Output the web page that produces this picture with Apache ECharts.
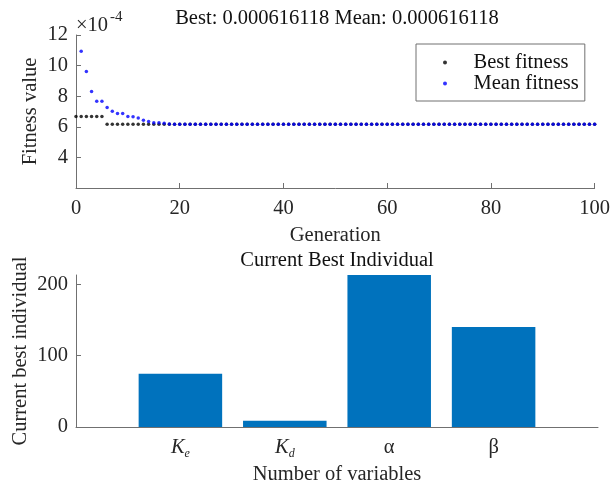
<!DOCTYPE html>
<html>
<head>
<meta charset="utf-8">
<script src="https://cdn.jsdelivr.net/npm/echarts@6/dist/echarts.min.js"></script>
<style>
html, body { margin: 0; padding: 0; background: #fff; }
#chart { width: 613px; height: 487px; }
</style>
</head>
<body>
<div id="chart"></div>
<script>
// Fitness per generation, in units of 1e-4 (axis carries the ×10^-4 factor)
const bestFitness = [
  6.67, 6.67, 6.67, 6.67, 6.67, 6.67, 6.16118, 6.16118, 6.16118, 6.16118,
  6.16118, 6.16118, 6.16118, 6.16118, 6.16118, 6.16118, 6.16118, 6.16118, 6.16118, 6.16118,
  6.16118, 6.16118, 6.16118, 6.16118, 6.16118, 6.16118, 6.16118, 6.16118, 6.16118, 6.16118,
  6.16118, 6.16118, 6.16118, 6.16118, 6.16118, 6.16118, 6.16118, 6.16118, 6.16118, 6.16118,
  6.16118, 6.16118, 6.16118, 6.16118, 6.16118, 6.16118, 6.16118, 6.16118, 6.16118, 6.16118,
  6.16118, 6.16118, 6.16118, 6.16118, 6.16118, 6.16118, 6.16118, 6.16118, 6.16118, 6.16118,
  6.16118, 6.16118, 6.16118, 6.16118, 6.16118, 6.16118, 6.16118, 6.16118, 6.16118, 6.16118,
  6.16118, 6.16118, 6.16118, 6.16118, 6.16118, 6.16118, 6.16118, 6.16118, 6.16118, 6.16118,
  6.16118, 6.16118, 6.16118, 6.16118, 6.16118, 6.16118, 6.16118, 6.16118, 6.16118, 6.16118,
  6.16118, 6.16118, 6.16118, 6.16118, 6.16118, 6.16118, 6.16118, 6.16118, 6.16118, 6.16118,
  6.16118
];
const meanFitness = [
  null, 10.93, 9.62, 8.30, 7.67, 7.67, 7.26, 7.02, 6.87, 6.87,
  6.68, 6.66, 6.58, 6.43, 6.35, 6.26, 6.26, 6.23, 6.18, 6.16118,
  6.16118, 6.16118, 6.16118, 6.16118, 6.16118, 6.16118, 6.16118, 6.16118, 6.16118, 6.16118,
  6.16118, 6.16118, 6.16118, 6.16118, 6.16118, 6.16118, 6.16118, 6.16118, 6.16118, 6.16118,
  6.16118, 6.16118, 6.16118, 6.16118, 6.16118, 6.16118, 6.16118, 6.16118, 6.16118, 6.16118,
  6.16118, 6.16118, 6.16118, 6.16118, 6.16118, 6.16118, 6.16118, 6.16118, 6.16118, 6.16118,
  6.16118, 6.16118, 6.16118, 6.16118, 6.16118, 6.16118, 6.16118, 6.16118, 6.16118, 6.16118,
  6.16118, 6.16118, 6.16118, 6.16118, 6.16118, 6.16118, 6.16118, 6.16118, 6.16118, 6.16118,
  6.16118, 6.16118, 6.16118, 6.16118, 6.16118, 6.16118, 6.16118, 6.16118, 6.16118, 6.16118,
  6.16118, 6.16118, 6.16118, 6.16118, 6.16118, 6.16118, 6.16118, 6.16118, 6.16118, 6.16118,
  6.16118
];
const fitnessTicks = [4, 6, 8, 10, 12];

// Current best individual
const variableNames = ['Ke', 'Kd', 'α', 'β'];
const bestIndividual = [74.5, 8.8, 213, 140.3];
const individualTicks = [0, 100, 200];

const FONT = 'Liberation Serif';
const FS = 20.5;
const TEXT = '#262626';
const AXIS = '#707070';

const toPoints = arr => arr.map((v, i) => [i, v]);
const lastBest = bestFitness[bestFitness.length - 1] * 1e-4;
const lastMean = meanFitness[meanFitness.length - 1] * 1e-4;
const titleText = 'Best: ' + lastBest.toPrecision(6) + ' Mean: ' + lastMean.toPrecision(6);

const axisCommon = {
  axisLine: { show: true, onZero: false, lineStyle: { color: AXIS, width: 1 } },
  axisTick: { show: true, inside: true, length: 5, lineStyle: { color: AXIS } },
  splitLine: { show: false },
  axisLabel: { fontFamily: FONT, fontSize: FS, color: TEXT },
  nameTextStyle: { fontFamily: FONT, fontSize: FS, color: TEXT },
  nameMoveOverlap: false
};

const chart = echarts.init(document.getElementById('chart'), null, { renderer: 'canvas' });

const subLabels = { Ke: 'e', Kd: 'd' };

chart.setOption({
  animation: false,
  backgroundColor: '#fff',
  textStyle: { fontFamily: FONT },
  grid: [
    { left: 76, top: 35, width: 522, height: 153 },
    { left: 76, top: 275, width: 522, height: 152 }
  ],
  graphic: [
    { type: 'text', x: 337, y: 19, style: { text: titleText, fontFamily: FONT, fontSize: FS, fill: '#111', align: 'center', verticalAlign: 'middle' } },
    { type: 'text', x: 76, y: 26, style: { text: '×10', fontFamily: FONT, fontSize: FS, fill: TEXT, align: 'left', verticalAlign: 'middle' } },
    { type: 'text', x: 110, y: 17, style: { text: '-4', fontFamily: FONT, fontSize: 15, fill: TEXT, align: 'left', verticalAlign: 'middle' } },
    { type: 'text', x: 337, y: 261, style: { text: 'Current Best Individual', fontFamily: FONT, fontSize: FS, fill: '#111', align: 'center', verticalAlign: 'middle' } }
  ],
  legend: {
    orient: 'vertical',
    left: 416,
    top: 44,
    padding: [8, 6, 7, 27],
    itemGap: 0,
    itemWidth: 47,
    itemHeight: 4,
    borderColor: '#707070',
    borderWidth: 1,
    backgroundColor: '#fff',
    textStyle: { fontFamily: FONT, fontSize: FS, color: '#111' },
    data: [
      { name: 'Best fitness', icon: 'circle' },
      { name: 'Mean fitness', icon: 'circle' }
    ]
  },
  xAxis: [
    Object.assign({}, axisCommon, {
      gridIndex: 0, type: 'value', min: 0, max: 100, interval: 20,
      axisLabel: Object.assign({}, axisCommon.axisLabel, { margin: 10 }),
      name: 'Generation', nameLocation: 'middle', nameGap: 37
    }),
    Object.assign({}, axisCommon, {
      gridIndex: 1, type: 'category', boundaryGap: false,
      data: [''].concat(variableNames, ['']),
      axisTick: Object.assign({}, axisCommon.axisTick, {
        interval: (i, v) => v !== ''
      }),
      axisLabel: Object.assign({}, axisCommon.axisLabel, {
        margin: 9,
        interval: 0,
        lineHeight: 24,
        formatter: v => subLabels[v] ? '{k|K}{s|' + subLabels[v] + '}' : v,
        rich: {
          k: { fontFamily: FONT, fontSize: FS, fontStyle: 'italic', color: TEXT, lineHeight: 24 },
          s: { fontFamily: FONT, fontSize: 12, fontStyle: 'italic', color: TEXT, verticalAlign: 'bottom', lineHeight: 12 }
        }
      }),
      name: 'Number of variables', nameLocation: 'middle', nameGap: 37
    })
  ],
  yAxis: [
    Object.assign({}, axisCommon, {
      gridIndex: 0, type: 'value', min: 2, max: 12, interval: 2,
      axisTick: Object.assign({}, axisCommon.axisTick, { customValues: fitnessTicks }),
      axisLabel: Object.assign({}, axisCommon.axisLabel, { margin: 8, customValues: fitnessTicks }),
      name: 'Fitness value', nameLocation: 'middle', nameGap: 35
    }),
    Object.assign({}, axisCommon, {
      gridIndex: 1, type: 'value', min: 0, max: Math.max.apply(null, bestIndividual), interval: 100,
      axisTick: Object.assign({}, axisCommon.axisTick, { customValues: individualTicks }),
      axisLabel: Object.assign({}, axisCommon.axisLabel, { margin: 8, customValues: individualTicks }),
      name: 'Current best individual', nameLocation: 'middle', nameGap: 45
    })
  ],
  series: [
    {
      name: 'Best fitness', type: 'scatter', xAxisIndex: 0, yAxisIndex: 0,
      symbol: 'circle', symbolSize: 3.5,
      itemStyle: { color: '#000' },
      data: toPoints(bestFitness)
    },
    {
      name: 'Mean fitness', type: 'scatter', xAxisIndex: 0, yAxisIndex: 0,
      symbol: 'circle', symbolSize: 3.5,
      itemStyle: { color: '#0000ff' },
      data: toPoints(meanFitness).filter(p => p[1] !== null)
    },
    {
      name: 'Current best individual', type: 'bar', xAxisIndex: 1, yAxisIndex: 1,
      barWidth: '80%',
      itemStyle: { color: '#0072BD' },
      data: ['-'].concat(bestIndividual, ['-'])
    }
  ]
});
</script>
</body>
</html>
